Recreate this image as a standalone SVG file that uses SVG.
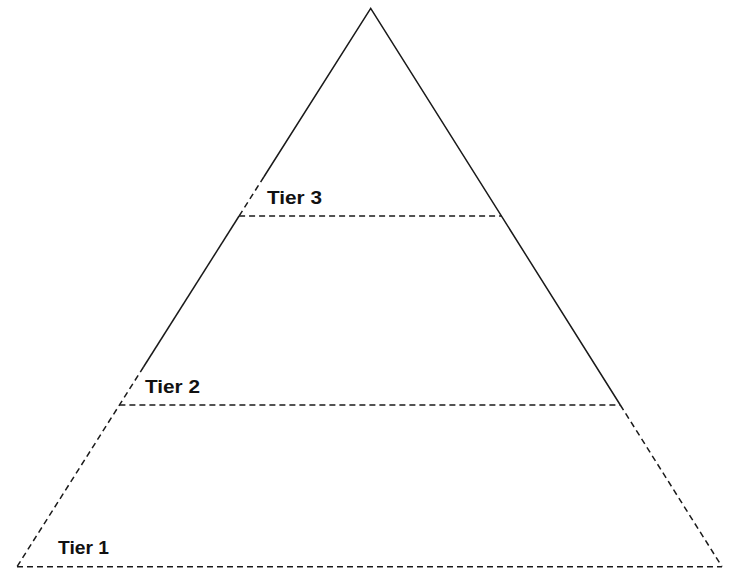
<svg xmlns="http://www.w3.org/2000/svg" width="734" height="568" viewBox="0 0 734 568">
<style>
.s{fill:none;stroke:#1a1a1a;stroke-width:1.5;stroke-linecap:butt}
.d{fill:none;stroke:#1a1a1a;stroke-width:1.5;stroke-dasharray:6 4}
.t{font-family:"Liberation Sans",Arial,sans-serif;font-weight:bold;font-size:19px;fill:#111}
</style>
<rect width="734" height="568" fill="#fff"/>
<g id="connectors">
<path class="s" d="M263.8,177 L370.7,8.3 L620.3,405"/>
<path class="d" d="M263.8,177 L239.1,216"/>
<path class="s" d="M239.1,216 L143.5,367"/>
<path class="d" d="M143.5,367 L17,566.7"/>
<path class="d" d="M620.3,405 L722,566.7"/>
<path class="d" d="M239.1,216 L501.4,216"/>
<path class="d" d="M119.4,405 L620.3,405"/>
<path class="d" d="M17,566.7 L722,566.7"/>
</g>
<g id="tier3"><text class="t" x="267" y="204" textLength="55" lengthAdjust="spacingAndGlyphs">Tier 3</text></g>
<g id="tier2"><text class="t" x="145" y="393" textLength="55" lengthAdjust="spacingAndGlyphs">Tier 2</text></g>
<g id="tier1"><text class="t" x="58" y="554" textLength="51" lengthAdjust="spacingAndGlyphs">Tier 1</text></g>
</svg>
